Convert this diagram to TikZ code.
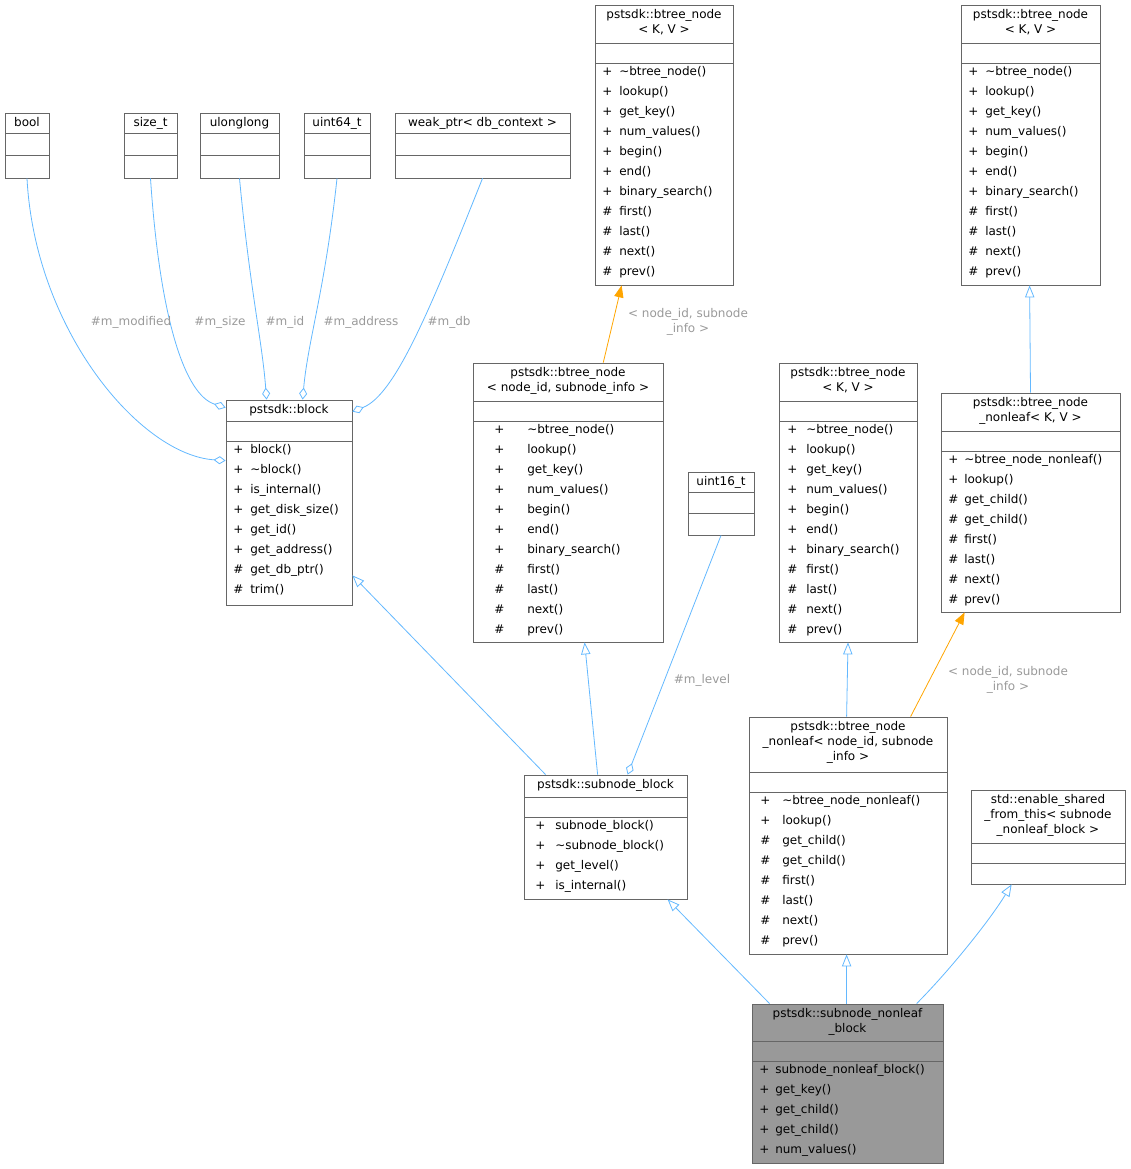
\documentclass[tikz,border=0pt]{standalone}
\usepackage{fontspec}
\setmainfont{DejaVu Sans}
\usetikzlibrary{arrows.meta}
\definecolor{edgeblue}{HTML}{63B8FF}
\definecolor{edgeorange}{HTML}{FFA500}
\definecolor{labelgray}{HTML}{9A9A9A}
\definecolor{framegray}{HTML}{666666}
\newlength\px \setlength\px{0.75pt}
\def\boxfill{white}
\def\symx{7}
\def\symw{17}
\newcommand{\mm}[2]{\makebox[\symw\px][l]{#1}#2}
\newcommand{\classbox}[9]{%
  \node[classframe, fill=\boxfill, minimum width={(#4-#2)*0.75pt}, minimum height={(#5-#3)*0.75pt}] (#1) at ({(#2+#4)/2},{(#3+#5)/2}) {};
  \draw[framegray, line width=0.6pt] (#2,#6) -- (#4,#6) (#2,#7) -- (#4,#7);
  \node[classtitle] at ({(#2+#4)/2},#3+4) {#8};
  \node[classmembers] at (#2+\symx,#7+3) {#9};
}
\tikzset{
  classframe/.style={draw=framegray, line width=0.6pt, inner sep=0pt, rectangle},
  classtitle/.style={anchor=north, align=center, inner sep=0pt, font=\fontsize{9}{11.25}\selectfont},
  classmembers/.style={anchor=north west, align=left, inner sep=0pt, font=\fontsize{9}{15}\selectfont},
  edgelabel/.style={text=labelgray, align=center, inner sep=0pt, font=\fontsize{9}{11.25}\selectfont},
  inherit/.style={edgeblue, line width=0.6pt, -{Triangle[open, length=9pt, width=7pt]}},
  member/.style={edgeblue, line width=0.6pt, -{Diamond[open, length=9pt, width=6pt]}},
  template/.style={edgeorange, line width=0.6pt, -{Triangle[length=9pt, width=7pt]}},
}
\begin{document}
\begin{tikzpicture}[x=0.75pt, y=-0.75pt]
\useasboundingbox (0,0) rectangle (1130,1169);

% top row of plain types
\classbox{bool}{5}{113}{49}{178}{133}{155}{bool}{}
\classbox{sizet}{124}{113}{177}{178}{133}{155}{size\_t}{}
\classbox{ulonglong}{200}{113}{279}{178}{133}{155}{ulonglong}{}
\classbox{uintsixfour}{304}{113}{370}{178}{133}{155}{uint64\_t}{}
\classbox{weakptr}{395}{113}{570}{178}{133}{155}{weak\_ptr< db\_context >}{}

\classbox{btreenode}{595}{5}{733}{285}{43}{63}{pstsdk::btree\_node\\< K, V >}{%
\mm{+}{\textasciitilde btree\_node()}\\ \mm{+}{lookup()}\\ \mm{+}{get\_key()}\\ \mm{+}{num\_values()}\\
\mm{+}{begin()}\\ \mm{+}{end()}\\ \mm{+}{binary\_search()}\\ \mm{\#}{first()}\\ \mm{\#}{last()}\\ \mm{\#}{next()}\\ \mm{\#}{prev()}}
\classbox{btreenodekv}{961}{5}{1100}{285}{43}{63}{pstsdk::btree\_node\\< K, V >}{%
\mm{+}{\textasciitilde btree\_node()}\\ \mm{+}{lookup()}\\ \mm{+}{get\_key()}\\ \mm{+}{num\_values()}\\
\mm{+}{begin()}\\ \mm{+}{end()}\\ \mm{+}{binary\_search()}\\ \mm{\#}{first()}\\ \mm{\#}{last()}\\ \mm{\#}{next()}\\ \mm{\#}{prev()}}

\classbox{block}{226}{400}{352}{605}{421}{441}{pstsdk::block}{%
\mm{+}{block()}\\ \mm{+}{\textasciitilde block()}\\ \mm{+}{is\_internal()}\\ \mm{+}{get\_disk\_size()}\\
\mm{+}{get\_id()}\\ \mm{+}{get\_address()}\\ \mm{\#}{get\_db\_ptr()}\\ \mm{\#}{trim()}}

\def\symx{21}\def\symw{33}
\classbox{btreenodeid}{473}{363}{663}{642}{401}{421}{pstsdk::btree\_node\\< node\_id, subnode\_info >}{%
\mm{+}{\textasciitilde btree\_node()}\\ \mm{+}{lookup()}\\ \mm{+}{get\_key()}\\ \mm{+}{num\_values()}\\
\mm{+}{begin()}\\ \mm{+}{end()}\\ \mm{+}{binary\_search()}\\ \mm{\#}{first()}\\ \mm{\#}{last()}\\ \mm{\#}{next()}\\ \mm{\#}{prev()}}

\def\symx{7}\def\symw{17}
\classbox{uintsixteen}{688}{472}{754}{535}{492}{513}{uint16\_t}{}

\def\symx{8}\def\symw{19}
\classbox{btreenodemid}{779}{363}{917}{642}{401}{421}{pstsdk::btree\_node\\< K, V >}{%
\mm{+}{\textasciitilde btree\_node()}\\ \mm{+}{lookup()}\\ \mm{+}{get\_key()}\\ \mm{+}{num\_values()}\\
\mm{+}{begin()}\\ \mm{+}{end()}\\ \mm{+}{binary\_search()}\\ \mm{\#}{first()}\\ \mm{\#}{last()}\\ \mm{\#}{next()}\\ \mm{\#}{prev()}}

\def\symx{7}\def\symw{16}
\classbox{nonleafkv}{941}{393}{1120}{612}{431}{451}{pstsdk::btree\_node\\\_nonleaf< K, V >}{%
\mm{+}{\textasciitilde btree\_node\_nonleaf()}\\ \mm{+}{lookup()}\\ \mm{\#}{get\_child()}\\ \mm{\#}{get\_child()}\\
\mm{\#}{first()}\\ \mm{\#}{last()}\\ \mm{\#}{next()}\\ \mm{\#}{prev()}}

\def\symx{11}\def\symw{20}
\classbox{subblock}{524}{775}{687}{899}{797}{817}{pstsdk::subnode\_block}{%
\mm{+}{subnode\_block()}\\ \mm{+}{\textasciitilde subnode\_block()}\\ \mm{+}{get\_level()}\\ \mm{+}{is\_internal()}}

\def\symx{11}\def\symw{22}
\classbox{nonleafid}{749}{717}{947}{954}{772}{792}{pstsdk::btree\_node\\\_nonleaf< node\_id, subnode\\\_info >}{%
\mm{+}{\textasciitilde btree\_node\_nonleaf()}\\ \mm{+}{lookup()}\\ \mm{\#}{get\_child()}\\ \mm{\#}{get\_child()}\\
\mm{\#}{first()}\\ \mm{\#}{last()}\\ \mm{\#}{next()}\\ \mm{\#}{prev()}}

\def\symx{7}\def\symw{17}
\classbox{enableshared}{971}{790}{1125}{884}{843}{863}{std::enable\_shared\\\_from\_this< subnode\\\_nonleaf\_block >}{}

\def\boxfill{black!40}\def\symx{7}\def\symw{16}
\classbox{nonleafblock}{752}{1004}{943}{1163}{1041}{1061}{pstsdk::subnode\_nonleaf\\\_block}{%
\mm{+}{subnode\_nonleaf\_block()}\\ \mm{+}{get\_key()}\\ \mm{+}{get\_child()}\\ \mm{+}{get\_child()}\\ \mm{+}{num\_values()}}

% members of block
\draw[member] (bool.south) .. controls (35,330) and (140,455) .. ([yshift=-45.75pt]block.north west);
\draw[member] (sizet.south) .. controls (160,320) and (185,395) .. ([yshift=-6pt]block.north west);
\draw[member] (ulonglong.south) .. controls (250,290) and (262,340) .. ([xshift=30.75pt]block.north west);
\draw[member] (uintsixfour.south) .. controls (325,290) and (308,340) .. ([xshift=57.75pt]block.north west);
\draw[member] (weakptr.south) .. controls (430,310) and (395,395) .. ([yshift=-9pt]block.north east);
\node[edgelabel] at (131,322) {\#m\_modified};
\node[edgelabel] at (220,322) {\#m\_size};
\node[edgelabel] at (285,322) {\#m\_id};
\node[edgelabel] at (361,322) {\#m\_address};
\node[edgelabel] at (449,322) {\#m\_db};

% subnode_block
\draw[inherit] ([xshift=16.5pt]subblock.north west) -- ([yshift=22.5pt]block.south east);
\draw[inherit] ([xshift=55.5pt]subblock.north west) -- ([xshift=84pt]btreenodeid.south west);
\draw[member] (uintsixteen.south) -- ([xshift=78pt]subblock.north west);
\node[edgelabel] at (702,680) {\#m\_level};

% template instances
\draw[template] ([xshift=98pt]btreenodeid.north west) -- ([xshift=20.25pt]btreenode.south west);
\node[edgelabel] at (688,322) {< node\_id, subnode\\\_info >};
\draw[inherit] (nonleafkv.north) -- ([xshift=51.75pt]btreenodekv.south west);
\draw[inherit] ([xshift=73.5pt]nonleafid.north west) -- (btreenodemid.south);
\draw[template] ([xshift=121.5pt]nonleafid.north west) -- ([xshift=18pt]nonleafkv.south west);
\node[edgelabel] at (1008,680) {< node\_id, subnode\\\_info >};

% subnode_nonleaf_block
\draw[inherit] ([xshift=13.5pt]nonleafblock.north west) -- ([xshift=108pt]subblock.south west);
\draw[inherit] ([xshift=71.25pt]nonleafblock.north west) -- ([xshift=73.5pt]nonleafid.south west);
\draw[inherit] ([xshift=123.75pt]nonleafblock.north west) .. controls (950,970) and (990,920) .. ([xshift=30.75pt]enableshared.south west);
\end{tikzpicture}
\end{document}
